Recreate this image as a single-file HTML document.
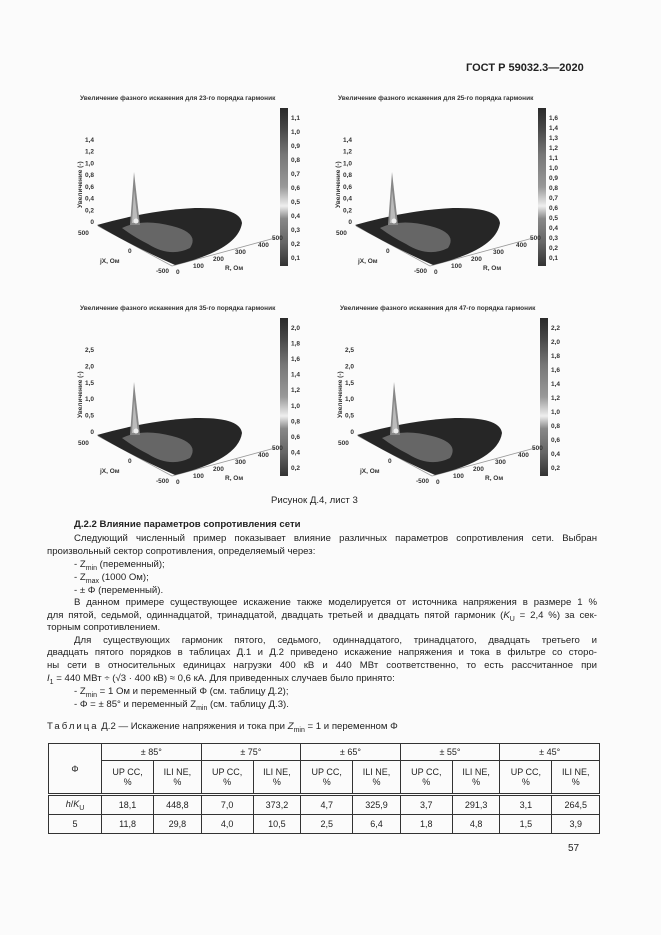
<!DOCTYPE html><html><head><meta charset="utf-8"><style>
body{margin:0;background:#fff}
#p{position:relative;width:661px;height:935px;background:#fbfbfb;font-family:"Liberation Sans",sans-serif;color:#222;overflow:hidden}
.t{position:absolute;font-size:9.6px;white-space:nowrap;line-height:12px}
.j{position:absolute;left:47px;width:550px;font-size:9.6px;line-height:12.5px;text-align:justify;text-align-last:justify}
table{position:absolute;left:48px;top:743px;border-collapse:collapse;font-size:9px;width:552px}
td{border:1px solid #333;text-align:center;padding:0}
svg text{font-family:"Liberation Sans",sans-serif}
</style></head><body><div id="p">
<div class="t" style="left:466px;top:62px;font-weight:bold;font-size:11px">ГОСТ Р 59032.3—2020</div>
<div id="charts"></div>
<div class="t" style="left:271px;top:495px">Рисунок Д.4, лист 3</div>
<div class="t" style="left:74px;top:519px;font-weight:bold">Д.2.2 Влияние параметров сопротивления сети</div>
<div class="j" style="top:533px;padding-left:27px;width:523px">Следующий численный пример показывает влияние различных параметров сопротивления сети. Выбран</div>
<div class="t" style="left:47px;top:546px">произвольный сектор сопротивления, определяемый через:</div>
<div class="t" style="left:74px;top:559px">- Z<sub style="font-size:7px">min</sub> (переменный);</div>
<div class="t" style="left:74px;top:572px">- Z<sub style="font-size:7px">max</sub> (1000 Ом);</div>
<div class="t" style="left:74px;top:585px">- ± Φ (переменный).</div>
<div class="j" style="top:597px;padding-left:27px;width:523px">В данном примере существующее искажение также моделируется от источника напряжения в размере 1 %</div>
<div class="j" style="top:610px">для пятой, седьмой, одиннадцатой, тринадцатой, двадцать третьей и двадцать пятой гармоник (<i>K</i><sub style="font-size:7px">U</sub> = 2,4 %) за сек-</div>
<div class="t" style="left:47px;top:622px">торным сопротивлением.</div>
<div class="j" style="top:635px;padding-left:27px;width:523px">Для существующих гармоник пятого, седьмого, одиннадцатого, тринадцатого, двадцать третьего и</div>
<div class="j" style="top:647px">двадцать пятого порядков в таблицах Д.1 и Д.2 приведено искажение напряжения и тока в фильтре со сторо-</div>
<div class="j" style="top:660px">ны сети в относительных единицах нагрузки 400 кВ и 440 МВт соответственно, то есть рассчитанное при</div>
<div class="t" style="left:47px;top:673px"><i>I</i><sub style="font-size:7px">1</sub> = 440 МВт ÷ (√3 · 400 кВ) ≈ 0,6 кА. Для приведенных случаев было принято:</div>
<div class="t" style="left:74px;top:686px">- Z<sub style="font-size:7px">min</sub> = 1 Ом и переменный Φ (см. таблицу Д.2);</div>
<div class="t" style="left:74px;top:699px">- Φ = ± 85° и переменный Z<sub style="font-size:7px">min</sub> (см. таблицу Д.3).</div>
<div class="t" style="left:47px;top:721px"><span style="letter-spacing:2px">Таблица</span> Д.2 — Искажение напряжения и тока при <i>Z</i><sub style="font-size:7px">min</sub> = 1 и переменном Φ</div>
<table>
<tr style="height:17px"><td rowspan="2" style="width:52px">Φ</td><td colspan="2">± 85°</td><td colspan="2">± 75°</td><td colspan="2">± 65°</td><td colspan="2">± 55°</td><td colspan="2">± 45°</td></tr>
<tr style="height:34px;border-bottom:3px double #333"><td>UP CC,<br>%</td><td>ILI NE,<br>%</td><td>UP CC,<br>%</td><td>ILI NE,<br>%</td><td>UP CC,<br>%</td><td>ILI NE,<br>%</td><td>UP CC,<br>%</td><td>ILI NE,<br>%</td><td>UP CC,<br>%</td><td>ILI NE,<br>%</td></tr>
<tr style="height:20px"><td><i>h</i>/<i>K</i><sub style="font-size:7px">U</sub></td><td>18,1</td><td>448,8</td><td>7,0</td><td>373,2</td><td>4,7</td><td>325,9</td><td>3,7</td><td>291,3</td><td>3,1</td><td>264,5</td></tr>
<tr style="height:19px"><td>5</td><td>11,8</td><td>29,8</td><td>4,0</td><td>10,5</td><td>2,5</td><td>6,4</td><td>1,8</td><td>4,8</td><td>1,5</td><td>3,9</td></tr>
</table>
<div class="t" style="left:568px;top:843px;font-size:10px">57</div>
</div>
<script>
var cfg=[[60,90,["1,1","1,0","0,9","0,8","0,7","0,6","0,5","0,4","0,3","0,2","0,1"],["1,4","1,2","1,0","0,8","0,6","0,4","0,2","0"],"23"],
[318,90,["1,6","1,4","1,3","1,2","1,1","1,0","0,9","0,8","0,7","0,6","0,5","0,4","0,3","0,2","0,1"],["1,4","1,2","1,0","0,8","0,6","0,4","0,2","0"],"25"],
[60,300,["2,0","1,8","1,6","1,4","1,2","1,0","0,8","0,6","0,4","0,2"],["2,5","2,0","1,5","1,0","0,5","0"],"35"],
[320,300,["2,2","2,0","1,8","1,6","1,4","1,2","1,0","0,8","0,6","0,4","0,2"],["2,5","2,0","1,5","1,0","0,5","0"],"47"]];
var h="";
cfg.forEach(function(c){
 var s='<svg style="position:absolute;left:'+c[0]+'px;top:'+c[1]+'px" width="260" height="200">';
 s+='<text x="20" y="10" font-size="6.5" font-weight="bold" fill="#333">Увеличение фазного искажения для '+c[4]+'-го порядка гармоник</text>';
 var g='<linearGradient id="g'+c[4]+'" x1="0" y1="0" x2="0" y2="1"><stop offset="0" stop-color="#2a2a2a"/><stop offset=".12" stop-color="#444"/><stop offset=".3" stop-color="#777"/><stop offset=".5" stop-color="#999"/><stop offset=".62" stop-color="#eee"/><stop offset=".7" stop-color="#888"/><stop offset=".85" stop-color="#666"/><stop offset="1" stop-color="#333"/></linearGradient>';
 s+='<defs>'+g+'</defs><rect x="220" y="18" width="8" height="158" fill="url(#g'+c[4]+')"/>';
 var n=c[2].length;c[2].forEach(function(t,i){s+='<text x="231" y="'+(30+i*(140/(n-1)))+'" font-size="6.5" font-weight="bold" fill="#333">'+t+'</text>';});
 var m=c[3].length;c[3].forEach(function(t,i){s+='<text x="34" y="'+(52+i*(82/(m-1)))+'" font-size="6.5" font-weight="bold" fill="#333" text-anchor="end">'+t+'</text>';});
 s+='<text transform="translate(22,118) rotate(-90)" font-size="6.5" font-weight="bold" fill="#333">Увеличение (-)</text>';
 s+='<path d="M38,136 L112,176 M112,176 L215,148" stroke="#999" stroke-width=".8" fill="none"/>';
 s+='<path d="M37,135 Q90,120 135,118 Q180,117 182,133 Q178,160 115,175 Q70,155 37,135Z" fill="#262626"/>';
 s+='<path d="M62,138 Q82,128 112,136 Q140,143 130,158 Q110,168 88,154 Q74,147 62,138Z" fill="#666"/>';
 s+='<path d="M70,135 L74,82 L80,135Z" fill="#888"/><path d="M72,133 L74,100 L78,133Z" fill="#bbb"/><circle cx="76" cy="131" r="2.5" fill="#eee"/>';
 s+='<text x="18" y="145" font-size="6.5" font-weight="bold" fill="#333">500</text><text x="68" y="163" font-size="6.5" font-weight="bold" fill="#333">0</text><text x="96" y="183" font-size="6.5" font-weight="bold" fill="#333">-500</text>';
 s+='<text x="116" y="184" font-size="6.5" font-weight="bold" fill="#333">0</text><text x="133" y="178" font-size="6.5" font-weight="bold" fill="#333">100</text><text x="153" y="171" font-size="6.5" font-weight="bold" fill="#333">200</text><text x="175" y="164" font-size="6.5" font-weight="bold" fill="#333">300</text><text x="198" y="157" font-size="6.5" font-weight="bold" fill="#333">400</text><text x="212" y="150" font-size="6.5" font-weight="bold" fill="#333">500</text>';
 s+='<text x="40" y="173" font-size="6.5" font-weight="bold" fill="#333">jX, Ом</text><text x="165" y="180" font-size="6.5" font-weight="bold" fill="#333">R, Ом</text>';
 h+=s+'</svg>';});
document.getElementById('charts').innerHTML=h;
</script>
</body></html>
